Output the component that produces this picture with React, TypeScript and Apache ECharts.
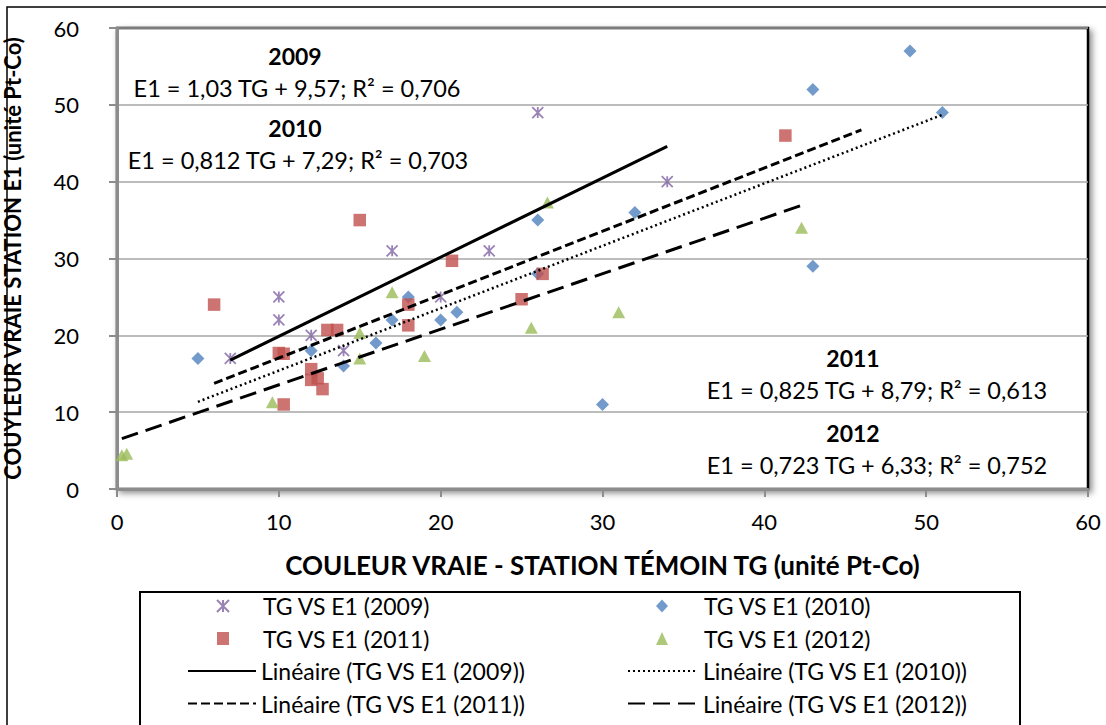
import React, { useEffect, useRef } from "react";
import * as echarts from "echarts";

// ---- data ----
const scatterNames = ["TG VS E1 (2009)", "TG VS E1 (2010)", "TG VS E1 (2011)", "TG VS E1 (2012)"];
const trendNames = [
  "Linéaire (TG VS E1 (2009))",
  "Linéaire (TG VS E1 (2010))",
  "Linéaire (TG VS E1 (2011))",
  "Linéaire (TG VS E1 (2012))",
];

const data2009 = [
  [7, 17], [10, 25], [10, 22], [12, 20], [14, 18], [17, 31], [20, 25], [23, 31], [26, 49], [34, 40],
];
const data2010 = [
  [5, 17], [12, 18], [14, 16], [16, 19], [17, 22], [18, 25], [20, 22], [21, 23], [26, 35], [26, 28],
  [30, 11], [32, 36], [43, 52], [43, 29], [49, 57], [51, 49],
];
const data2011 = [
  [6, 24], [10, 17.7], [10.3, 17.6], [10.3, 11], [12, 15.6], [12, 14.2], [12.4, 14.4], [12.7, 13],
  [13, 20.7], [13.6, 20.7], [15, 35], [18, 24], [18, 21.3], [20.7, 29.7], [25, 24.7], [26.3, 28], [41.3, 46],
];
const data2012 = [
  [0.3, 4.4], [0.6, 4.6], [9.6, 11.3], [15, 20.3], [15, 17], [17, 25.6], [19, 17.3], [25.6, 21],
  [26.6, 37.3], [31, 23], [42.3, 34],
];

const trendSlopes = [1.03, 0.812, 0.825, 0.723];
const trendIntercepts = [9.57, 7.29, 8.79, 6.33];
const trendXRanges = [[7, 34], [5, 51], [6, 46], [0.3, 42.3]];

const yearLabels = ["2009", "2010", "2011", "2012"];
const equationLabels = [
  "E1 = 1,03 TG + 9,57; R² = 0,706",
  "E1 = 0,812 TG + 7,29; R² = 0,703",
  "E1 = 0,825 TG + 8,79; R² = 0,613",
  "E1 = 0,723 TG + 6,33; R² = 0,752",
];

const xAxisTitle = "COULEUR VRAIE - STATION TÉMOIN TG (unité Pt-Co)";
const yAxisTitle = "COUYLEUR VRAIE STATION E1 (unité Pt-Co)";

// ---- styles ----
const FONT = "Lato";
const colors = ["#8064A2", "#4F81BD", "#C0504D", "#9BBB59"];
const symbols = [
  "path://M0,0L10,10M10,0L0,10M5,0L5,10",
  "diamond",
  "rect",
  "triangle",
];
const symbolSizes = [[11, 11], [13, 13], [12.5, 12.5], [13, 12]];
const lineTypes: any[] = ["solid", [2, 3], [9, 4], [17, 8]];
const lineWidths = [3, 2.5, 3, 3];

export default function App() {
  const ref = useRef<HTMLDivElement>(null);

  useEffect(() => {
    if (!ref.current) return;
    const chart = echarts.init(ref.current, undefined, { renderer: "svg" });
    const scatterData = [data2009, data2010, data2011, data2012];

    const scatterSeries = scatterData.map((d, i) => ({
      name: scatterNames[i],
      type: "scatter",
      data: d,
      symbol: symbols[i],
      symbolSize: symbolSizes[i],
      itemStyle:
        i === 0
          ? { color: colors[i], borderColor: colors[i], borderWidth: 1.8 }
          : { color: colors[i], borderWidth: 0 },
      z: 2,
    }));

    const trendSeries = trendSlopes.map((m, i) => ({
      name: trendNames[i],
      type: "line",
      data: trendXRanges[i].map((x) => [x, m * x + trendIntercepts[i]]),
      symbol: "none",
      showSymbol: false,
      lineStyle: { color: "#000", width: lineWidths[i], type: lineTypes[i] },
      itemStyle: { color: "#000" },
      z: 3,
    }));

    const axisLabel = { fontFamily: FONT, fontSize: 22, color: "#000" };
    const axisLine = { show: true, lineStyle: { color: "#8c8c8c", width: 3 } };
    const axisTick = { show: true, inside: false, length: 8, lineStyle: { color: "#8c8c8c", width: 2 } };

    const hiddenSymbol = { color: "rgba(0,0,0,0)", borderColor: "rgba(0,0,0,0)", borderWidth: 0 };

    const legendText = { fontFamily: FONT, fontSize: 23, color: "#000", lineHeight: 24 };
    const legendCommon = {
      orient: "vertical",
      padding: 0,
      itemGap: 8.5,
      selectedMode: false,
    };

    const annPos = [
      { yx: 295, yy: 56, ex: 297, ey: 88 },
      { yx: 295, yy: 128, ex: 298, ey: 160 },
      { yx: 853, yy: 358, ex: 877, ey: 390 },
      { yx: 853, yy: 433, ex: 877, ey: 465 },
    ];

    const graphics: any[] = [
      {
        type: "rect",
        shape: { x: 7, y: 7, width: 1120, height: 740 },
        style: { fill: "none", stroke: "#000", lineWidth: 1.5 },
        z: -10,
      },
      {
        type: "rect",
        shape: { x: 140, y: 592, width: 880, height: 150 },
        style: { fill: "#fff", stroke: "#000", lineWidth: 2 },
        z: -5,
      },
    ];
    annPos.forEach((p, i) => {
      graphics.push({
        type: "text",
        x: p.yx,
        y: p.yy,
        style: {
          text: yearLabels[i],
          fontFamily: FONT,
          fontSize: 23,
          fontWeight: "bold",
          fill: "#000",
          align: "center",
          verticalAlign: "middle",
        },
        z: 10,
      });
      graphics.push({
        type: "text",
        x: p.ex,
        y: p.ey,
        style: {
          text: equationLabels[i],
          fontFamily: FONT,
          fontSize: 23.5,
          fill: "#000",
          align: "center",
          verticalAlign: "middle",
        },
        z: 10,
      });
    });

    chart.setOption({
      animation: false,
      backgroundColor: "#fff",
      grid: {
        left: 117,
        top: 28,
        right: 18,
        bottom: 236,
        outerBoundsMode: "none",
        containLabel: false,
        show: true,
        backgroundColor: "#fff",
        borderColor: "#000",
        borderWidth: 2.5,
        shadowBlur: 6,
        shadowColor: "rgba(0,0,0,0.45)",
        shadowOffsetX: 3,
        shadowOffsetY: 3,
      },
      xAxis: {
        type: "value",
        min: 0,
        max: 60,
        interval: 10,
        name: xAxisTitle,
        nameLocation: "middle",
        nameGap: 63,
        nameTextStyle: { fontFamily: FONT, fontSize: 26, fontWeight: "bold", color: "#000" },
        axisLine,
        axisTick,
        axisLabel: { ...axisLabel, margin: 21 },
        splitLine: { show: false },
      },
      yAxis: {
        type: "value",
        min: 0,
        max: 60,
        interval: 10,
        name: yAxisTitle,
        nameLocation: "middle",
        nameGap: 94,
        nameRotate: 90,
        nameTextStyle: { fontFamily: FONT, fontSize: 22, fontWeight: "bold", color: "#000", lineHeight: 22 },
        axisLine,
        axisTick,
        axisLabel: { ...axisLabel, margin: 38 },
        splitLine: { show: true, lineStyle: { color: "#a6a6a6", width: 1.5 } },
      },
      legend: [
        {
          ...legendCommon,
          left: 216,
          top: 594,
          itemWidth: 12,
          itemHeight: 13,
          textStyle: { ...legendText, padding: [0, 0, 0, 29] },
          data: [scatterNames[0], scatterNames[2]],
        },
        {
          ...legendCommon,
          left: 656,
          top: 594,
          itemWidth: 12,
          itemHeight: 13,
          textStyle: { ...legendText, padding: [0, 0, 0, 31] },
          data: [scatterNames[1], scatterNames[3]],
        },
        {
          ...legendCommon,
          left: 187,
          top: 659,
          itemWidth: 68,
          itemHeight: 13,
          lineStyle: { color: "#000" },
          textStyle: legendText,
          data: [
            { name: trendNames[0], itemStyle: hiddenSymbol },
            { name: trendNames[2], itemStyle: hiddenSymbol },
          ],
        },
        {
          ...legendCommon,
          left: 627,
          top: 659,
          itemWidth: 70,
          itemHeight: 13,
          lineStyle: { color: "#000" },
          textStyle: legendText,
          data: [
            { name: trendNames[1], itemStyle: hiddenSymbol },
            { name: trendNames[3], itemStyle: hiddenSymbol },
          ],
        },
      ],
      graphic: graphics,
      series: [...scatterSeries, ...trendSeries],
    });

    return () => chart.dispose();
  }, []);

  return (
    <div
      ref={ref}
      style={{ position: "absolute", left: 0, top: 0, width: 1106, height: 725, background: "#fff" }}
    />
  );
}
